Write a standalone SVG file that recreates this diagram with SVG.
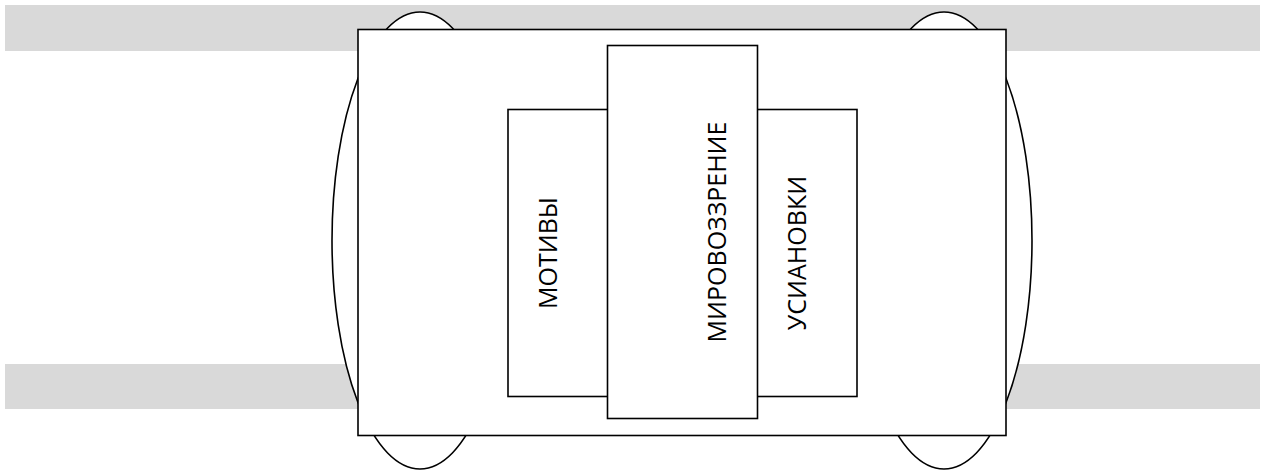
<svg xmlns="http://www.w3.org/2000/svg" width="1270" height="474" viewBox="0 0 1270 474">
<style>
.band{fill:#d9d9d9;stroke:none}
.shape{fill:#ffffff;stroke:#000000;stroke-width:1.6}
.lbl{font-family:"Open Sans","Noto Sans",sans-serif;font-size:25px;fill:#000000;text-anchor:middle}
</style>
<rect width="1270" height="474" fill="#ffffff"/>
<g id="bands">
<rect class="band" x="5" y="5" width="1255" height="46"/>
<rect class="band" x="5" y="364" width="1255" height="45"/>
</g>
<g id="wheel-left"><ellipse class="shape" cx="420" cy="240.5" rx="88" ry="228.5"/></g>
<g id="wheel-right"><ellipse class="shape" cx="944" cy="240.5" rx="88" ry="228.5"/></g>
<g id="body"><rect class="shape" x="358" y="29.5" width="648" height="406" stroke-width="2"/></g>
<g id="motives">
<rect class="shape" x="508" y="109.5" width="100" height="287"/>
<text class="lbl" transform="translate(556.5,253) rotate(-90)">МОТИВЫ</text>
</g>
<g id="attitudes">
<rect class="shape" x="757" y="109.5" width="100" height="287"/>
<text class="lbl" transform="translate(806,253) rotate(-90)">УСИАНОВКИ</text>
</g>
<g id="worldview">
<rect class="shape" x="607.5" y="45.5" width="150" height="373"/>
<text class="lbl" transform="translate(725.5,232) rotate(-90)">МИРОВОЗЗРЕНИЕ</text>
</g>
<g id="connectors"></g>
</svg>
